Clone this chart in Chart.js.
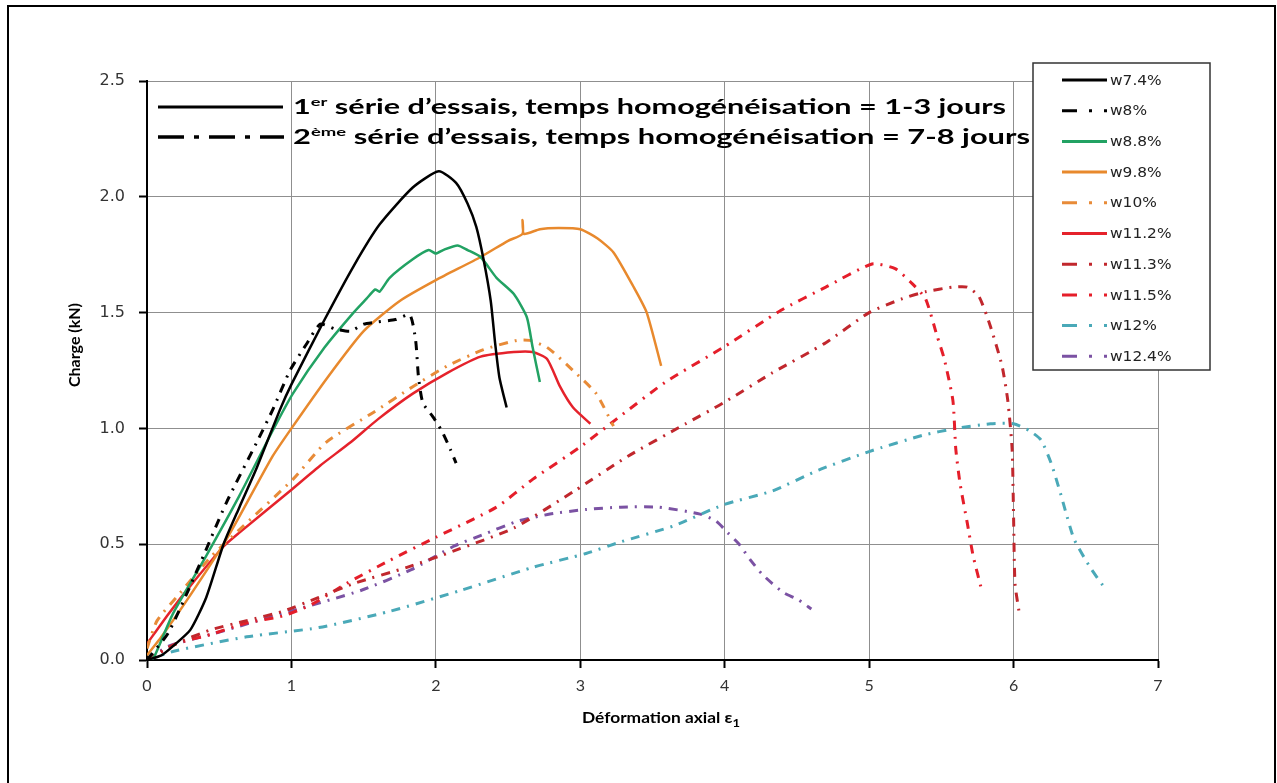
<!DOCTYPE html>
<html><head><meta charset="utf-8">
<script src="https://cdn.jsdelivr.net/npm/chart.js@4.4.1/dist/chart.umd.min.js"></script>
<style>
html,body{margin:0;padding:0;background:#fff;overflow:hidden;}
#wrap{position:absolute;left:0;top:0;width:1277px;height:783px;}
#frame{position:absolute;left:7px;top:5px;width:1265px;height:820px;border:2px solid #000;pointer-events:none;}
</style></head><body>
<div id="wrap"><canvas id="c" width="1277" height="783"></canvas></div>
<div id="frame"></div>
<script>
// ---- data (x = déformation axiale, y = charge kN) ----
const seriesLabels = ['w7.4%','w8%','w8.8%','w9.8%','w10%','w11.2%','w11.3%','w11.5%','w12%','w12.4%'];
const xTickValues = [0,1,2,3,4,5,6,7];
const yTickValues = [0,0.5,1,1.5,2,2.5];

const w74 = [[0,0],[0.1,0.02],[0.18,0.06],[0.3,0.13],[0.41,0.27],[0.53,0.5],[0.64,0.66],[0.76,0.83],[0.92,1.08],[1.0,1.19],[1.23,1.47],[1.43,1.70],[1.61,1.88],[1.84,2.04],[2.02,2.11],[2.14,2.06],[2.22,1.97],[2.28,1.87],[2.33,1.73],[2.38,1.55],[2.41,1.37],[2.44,1.22],[2.49,1.09]];
const w8 = [[0,0],[0.15,0.12],[0.37,0.42],[0.55,0.68],[0.76,0.94],[0.87,1.08],[0.99,1.25],[1.1,1.36],[1.2,1.45],[1.3,1.43],[1.41,1.42],[1.5,1.45],[1.6,1.46],[1.72,1.47],[1.82,1.49],[1.86,1.38],[1.88,1.22],[1.91,1.11],[1.98,1.05],[2.04,0.99],[2.10,0.91],[2.14,0.85]];
const w88 = [[0.03,0],[0.055,0.02],[0.18,0.2],[0.41,0.45],[0.64,0.71],[0.87,0.99],[1.01,1.15],[1.23,1.35],[1.43,1.50],[1.52,1.56],[1.58,1.60],[1.61,1.59],[1.68,1.65],[1.84,1.73],[1.95,1.77],[2.0,1.755],[2.05,1.77],[2.15,1.79],[2.22,1.77],[2.31,1.74],[2.42,1.65],[2.54,1.58],[2.63,1.48],[2.67,1.35],[2.72,1.20]];
const w98 = [[0,0.02],[0.1,0.1],[0.3,0.28],[0.53,0.5],[0.64,0.62],[0.87,0.88],[1.0,1.0],[1.25,1.22],[1.5,1.42],[1.75,1.55],[2.0,1.64],[2.31,1.74],[2.5,1.81],[2.6,1.84],[2.6,1.90],[2.61,1.84],[2.72,1.86],[2.85,1.865],[3.0,1.86],[3.12,1.82],[3.23,1.76],[3.37,1.61],[3.46,1.50],[3.56,1.27]];
const w10 = [[0,0.05],[0.07,0.17],[0.23,0.29],[0.45,0.45],[0.67,0.58],[1.01,0.78],[1.24,0.94],[1.57,1.07],[1.84,1.18],[2.08,1.27],[2.33,1.34],[2.56,1.38],[2.65,1.38],[2.77,1.35],[2.95,1.25],[3.11,1.15],[3.23,1.01]];
const w112 = [[0,0.07],[0.15,0.2],[0.30,0.32],[0.53,0.49],[0.64,0.55],[0.99,0.73],[1.2,0.84],[1.41,0.94],[1.6,1.04],[1.84,1.15],[2.08,1.24],[2.31,1.31],[2.54,1.33],[2.67,1.33],[2.77,1.30],[2.86,1.18],[2.95,1.09],[3.07,1.02]];
const w113 = [[0,0],[0.2,0.07],[0.44,0.13],[0.69,0.17],[0.94,0.21],[1.19,0.27],[1.43,0.33],[1.80,0.40],[2.12,0.47],[2.54,0.57],[2.96,0.73],[3.33,0.88],[3.73,1.02],[3.99,1.11],[4.33,1.24],[4.70,1.37],[5.0,1.50],[5.23,1.56],[5.39,1.59],[5.58,1.61],[5.68,1.61],[5.76,1.57],[5.84,1.44],[5.92,1.27],[5.96,1.12],[5.99,0.91],[6.0,0.62],[6.01,0.33],[6.04,0.20]];
const w115 = [[0,0],[0.2,0.07],[0.44,0.11],[0.69,0.16],[0.94,0.19],[1.14,0.24],[1.38,0.33],[1.68,0.43],[2.0,0.53],[2.42,0.66],[2.67,0.78],[3.0,0.92],[3.25,1.04],[3.59,1.20],[3.99,1.35],[4.39,1.51],[4.70,1.61],[5.02,1.71],[5.18,1.69],[5.29,1.63],[5.39,1.56],[5.47,1.40],[5.52,1.30],[5.58,1.12],[5.60,0.91],[5.63,0.76],[5.68,0.59],[5.72,0.45],[5.78,0.30]];
const w12 = [[0,0],[0.2,0.04],[0.69,0.10],[1.19,0.14],[1.68,0.21],[2.17,0.30],[2.67,0.40],[3.04,0.46],[3.28,0.51],[3.65,0.58],[3.99,0.67],[4.33,0.73],[4.65,0.82],[5.0,0.90],[5.37,0.97],[5.60,1.0],[5.84,1.02],[6.0,1.02],[6.11,0.99],[6.19,0.95],[6.26,0.85],[6.32,0.73],[6.37,0.62],[6.42,0.52],[6.53,0.40],[6.62,0.32]];
const w124 = [[0,0],[0.15,0.06],[0.44,0.11],[0.99,0.21],[1.48,0.30],[1.83,0.39],[2.12,0.49],[2.32,0.54],[2.57,0.60],[2.79,0.63],[3.04,0.65],[3.28,0.66],[3.54,0.66],[3.83,0.63],[3.94,0.60],[4.02,0.55],[4.10,0.50],[4.18,0.43],[4.26,0.37],[4.33,0.33],[4.41,0.29],[4.51,0.26],[4.60,0.22]];

const seriesData = [w74,w8,w88,w98,w10,w112,w113,w115,w12,w124];
const seriesColors = ['#000000','#000000','#22a263','#e8892d','#e88b38','#e5222b','#c1272d','#e51e2a','#4aa9b8','#7b52a3'];
const seriesDashed = [false,true,false,false,true,false,true,true,true,true];

const DASH = [9,7,2,7];
const datasets = seriesData.map((d,i)=>({
  label: seriesLabels[i],
  data: d.map(p=>({x:p[0],y:p[1]})),
  showLine:true,
  borderColor: seriesColors[i],
  backgroundColor: seriesColors[i],
  borderWidth: seriesDashed[i]?3:2.5,
  borderDash: seriesDashed[i]?DASH:[],
  pointRadius:0,
  tension:0.2,
  fill:false
}));

function drawRich(ctx, parts, x, baseline, targetW){
  let total=0;
  parts.forEach(p=>{ctx.font=p[1]; total+=ctx.measureText(p[0]).width;});
  const s = targetW? targetW/total : 1;
  ctx.save();
  ctx.translate(x, baseline);
  ctx.scale(s,1);
  let cx=0;
  parts.forEach(p=>{ctx.font=p[1]; ctx.fillText(p[0], cx, p[2]); cx+=ctx.measureText(p[0]).width;});
  ctx.restore();
}

const decor = {
  id:'decor',
  afterDraw(chart){
    const ctx = chart.ctx;
    ctx.save();
    ctx.fillStyle='#000';
    ctx.textBaseline='alphabetic';
    ctx.textAlign='left';
    ctx.strokeStyle='#000';
    ctx.lineWidth=3;
    ctx.setLineDash([]);
    ctx.beginPath(); ctx.moveTo(158,107); ctx.lineTo(283,107); ctx.stroke();
    ctx.lineWidth=3.5;
    ctx.setLineDash([26,10,5,10]);
    ctx.beginPath(); ctx.moveTo(158,137); ctx.lineTo(284,137); ctx.stroke();
    ctx.setLineDash([]);
    const B='bold 20px Lato', S='bold 12px Lato';
    drawRich(ctx, [['1',B,0],['er',S,-8],[' série d’essais, temps homogénéisation = 1-3 jours',B,0]], 293, 114, 713);
    drawRich(ctx, [['2',B,0],['ème',S,-8],[' série d’essais, temps homogénéisation = 7-8 jours',B,0]], 293, 144, 737);

    // axis titles
    ctx.save();
    ctx.translate(80, 345);
    ctx.rotate(-Math.PI/2);
    ctx.textAlign='center';
    ctx.font='bold 16px Lato';
    ctx.fillText('Charge (kN)',0,0);
    ctx.restore();
    const t='Déformation axial ε';
    ctx.font='bold 16px Lato';
    const w1=ctx.measureText(t).width;
    ctx.font='bold 12px Lato';
    const w2=ctx.measureText('1').width;
    const sx=158/(w1+w2);
    ctx.save();
    ctx.translate(582,723);
    ctx.scale(sx,1);
    ctx.font='bold 16px Lato';
    ctx.fillText(t,0,0);
    ctx.font='bold 12px Lato';
    ctx.fillText('1',w1,4);
    ctx.restore();

    // legend box
    const lx=1033, ly=63, lw=177, lh=307;
    ctx.fillStyle='#fff';
    ctx.fillRect(lx,ly,lw,lh);
    ctx.strokeStyle='#333';
    ctx.lineWidth=1.5;
    ctx.strokeRect(lx,ly,lw,lh);
    chart.data.datasets.forEach((ds,i)=>{
      const y=80+i*30.7;
      ctx.strokeStyle=ds.borderColor;
      ctx.lineWidth=3;
      ctx.setLineDash(ds.borderDash.length?[15,12,3,12]:[]);
      ctx.beginPath(); ctx.moveTo(1062,y); ctx.lineTo(1107,y); ctx.stroke();
      ctx.setLineDash([]);
      ctx.fillStyle='#222';
      ctx.textBaseline='middle';
      ctx.font='14px "DejaVu Sans"';
      ctx.save();
      ctx.translate(1110,y+1);
      ctx.scale(1.1,1);
      ctx.fillText(ds.label,0,0);
      ctx.restore();
    });
    ctx.restore();
  }
};

new Chart(document.getElementById('c'), {
  type:'scatter',
  data:{datasets},
  options:{
    responsive:false,
    animation:false,
    devicePixelRatio:1,
    layout:{padding:{left:87,top:81,right:119,bottom:63}},
    plugins:{legend:{display:false},tooltip:{enabled:false}},
    scales:{
      x:{
        type:'linear', min:0, max:7,
        afterBuildTicks(s){ s.ticks = xTickValues.map(v=>({value:v})); },
        afterFit(s){ s.height=60; },
        ticks:{font:{family:'Lato',size:16},color:'#333',padding:8,callback:v=>String(v)},
        grid:{color:'#8f8f8f',lineWidth:1,tickLength:8,tickColor:'#000',tickWidth:2},
        border:{color:'#000',width:2}
      },
      y:{
        type:'linear', min:0, max:2.5,
        afterBuildTicks(s){ s.ticks = yTickValues.map(v=>({value:v})); },
        afterFit(s){ s.width=60; },
        ticks:{font:{family:'DejaVu Sans',size:16},color:'#333',padding:14,callback:v=>Number(v).toFixed(1)},
        grid:{color:'#8f8f8f',lineWidth:1,tickLength:8,tickColor:'#000',tickWidth:2},
        border:{color:'#000',width:2}
      }
    }
  },
  plugins:[decor]
});
</script>
</body></html>
